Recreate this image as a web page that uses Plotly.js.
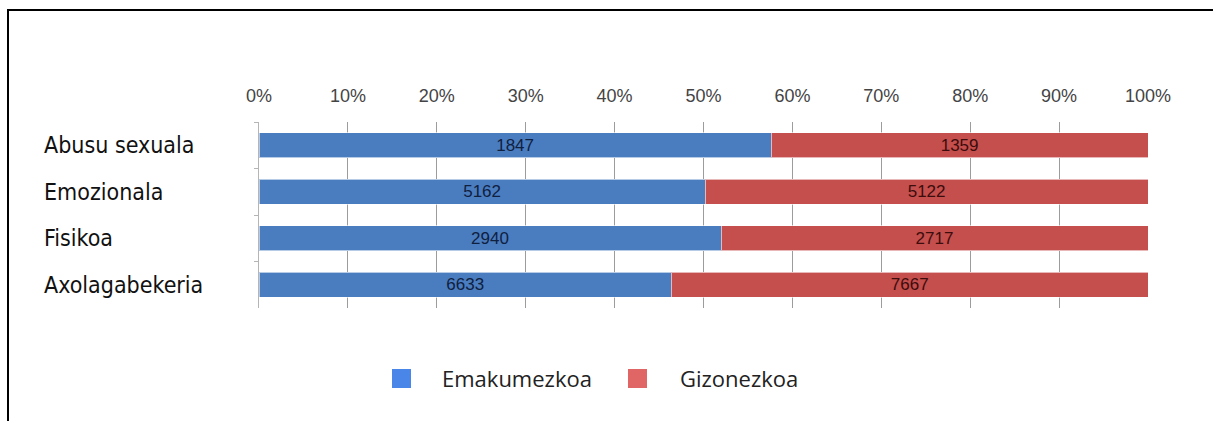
<!DOCTYPE html>
<html>
<head>
<meta charset="utf-8">
<script src="https://cdn.plot.ly/plotly-3.0.1.min.js"></script>
<style>
  html, body { margin: 0; padding: 0; background: #fff; }
  #wrap { position: relative; width: 1213px; height: 421px; overflow: hidden; }
  #chart { width: 1213px; height: 421px; }
  #frame { position: absolute; left: 7px; top: 9px; width: 1220px; height: 430px;
           border-top: 2px solid #000; border-left: 2px solid #000; pointer-events: none; }
</style>
</head>
<body>
<div id="wrap">
  <div id="chart"></div>
  <div id="frame"></div>
</div>
<script>
const categories = ["Abusu sexuala", "Emozionala", "Fisikoa", "Axolagabekeria"];
const women = [1847, 5162, 2940, 6633];
const men = [1359, 5122, 2717, 7667];
const seriesNames = ["Emakumezkoa", "Gizonezkoa"];
const tickValues = [0, 10, 20, 30, 40, 50, 60, 70, 80, 90, 100];
const tickLabels = ["0%", "10%", "20%", "30%", "40%", "50%", "60%", "70%", "80%", "90%", "100%"];

const barColors = ["#4a7dbf", "#c44f4c"];
const legendColors = ["#4a86e8", "#e06666"];
const textColors = ["#10203f", "#3d0c0c"];

function barTrace(vals, i) {
  return {
    type: "bar", orientation: "h",
    y: categories, x: vals, name: seriesNames[i],
    text: vals.map(String), textposition: "inside", insidetextanchor: "middle",
    textfont: { family: "Liberation Sans, Arial, sans-serif", size: 17, color: textColors[i] },
    constraintext: "none",
    marker: { color: barColors[i], line: { color: "rgba(255,255,255,0.6)", width: 1 } },
    showlegend: false, hoverinfo: "skip"
  };
}

const data = [barTrace(women, 0), barTrace(men, 1)];

// plot area in pixels: x 259..1148, y 122..308
const L = 259, W = 889, B = 308, H = 186;
const px = v => (v - L) / W;
const py = v => (B - v) / H;

const annotations = categories.map(c => ({
  x: px(42), xref: "paper", xanchor: "left",
  y: c, yref: "y", yanchor: "middle",
  text: c, showarrow: false,
  font: { family: "Liberation Sans Narrow, DejaVu Sans Condensed, sans-serif", size: 23, color: "#111" }
}));

// custom legend
const legendSquareX = [392, 628];
const legendTextX = [440, 678];
const shapes = [];
seriesNames.forEach((n, i) => {
  shapes.push({
    type: "rect", xref: "paper", yref: "paper",
    x0: px(legendSquareX[i]), x1: px(legendSquareX[i] + 19),
    y0: py(388), y1: py(369),
    fillcolor: legendColors[i], line: { width: 0 }
  });
  annotations.push({
    x: px(legendTextX[i]), xref: "paper", xanchor: "left",
    y: py(378), yref: "paper", yanchor: "middle",
    text: n, showarrow: false,
    font: { family: "Open Sans, sans-serif", size: 22, color: "#222" }
  });
});

const layout = {
  width: 1213, height: 421,
  margin: { l: 259, r: 65, t: 122, b: 113 },
  paper_bgcolor: "#fff", plot_bgcolor: "#fff",
  barmode: "stack", barnorm: "percent", bargap: 0.47,
  xaxis: {
    side: "top", range: [0, 100], tickmode: "array", tickvals: tickValues, ticktext: tickLabels,
    showgrid: true, gridcolor: "#9c9c9c", gridwidth: 1, zeroline: false,
    ticks: "", ticklabelstandoff: 15,
    tickfont: { family: "Liberation Sans, Arial, sans-serif", size: 18, color: "#444" },
    fixedrange: true
  },
  yaxis: {
    type: "category", autorange: "reversed",
    showticklabels: false, showgrid: false, zeroline: false,
    showline: true, linecolor: "#b5b5b5", linewidth: 1,
    ticks: "outside", tickson: "boundaries", ticklen: 4, tickcolor: "#b5b5b5",
    fixedrange: true
  },
  showlegend: false,
  shapes: shapes,
  annotations: annotations
};

Plotly.newPlot("chart", data, layout, { staticPlot: true, displayModeBar: false });
</script>
</body>
</html>
